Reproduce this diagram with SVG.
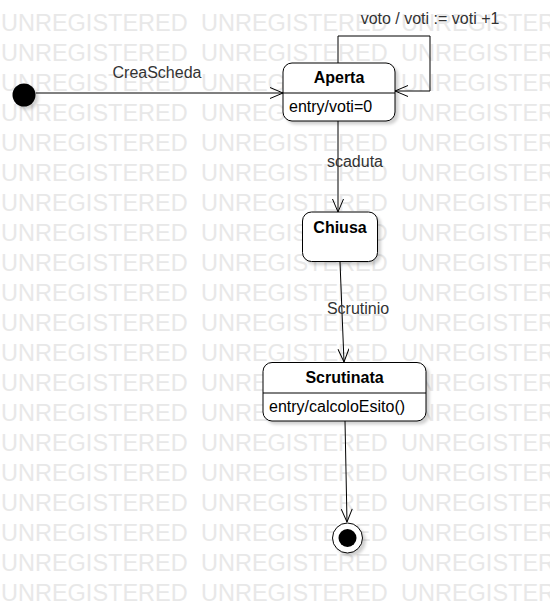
<svg xmlns="http://www.w3.org/2000/svg" width="550" height="603" viewBox="0 0 550 603">
  <style>
    .wm { font-family: "Liberation Sans", Arial, sans-serif; font-size: 23.5px; fill: #e8e8e8; }
    .state { fill: #ffffff; stroke: #000000; stroke-width: 1; }
    .title { font-family: "Liberation Sans", Arial, sans-serif; font-size: 16px; font-weight: bold; fill: #000; text-anchor: middle; }
    .body { font-family: "Liberation Sans", Arial, sans-serif; font-size: 16px; fill: #000; }
    .lbl { font-family: "Liberation Sans", Arial, sans-serif; font-size: 16px; fill: #333; }
    .edge { fill: none; stroke: #000000; stroke-width: 1; }
    .div { stroke: #000; stroke-width: 1; }
  </style>
  <defs>
    <filter id="sh" x="-20%" y="-20%" width="150%" height="150%">
      <feDropShadow dx="3" dy="3" stdDeviation="1.5" flood-color="#000" flood-opacity="0.18"/>
    </filter>
    <marker id="arr" viewBox="0 0 14 12" refX="13.5" refY="6" markerWidth="14" markerHeight="12" markerUnits="userSpaceOnUse" orient="auto">
      <path d="M0.5,0.5 L13.5,6 L0.5,11.5" fill="none" stroke="#000" stroke-width="1"/>
    </marker>
  </defs>
  <rect width="550" height="603" fill="#ffffff"/>
  <g id="watermark">
    <text class="wm" x="1" y="31">UNREGISTERED</text><text class="wm" x="201" y="31">UNREGISTERED</text><text class="wm" x="401" y="31">UNREGISTERED</text>
    <text class="wm" x="1" y="61">UNREGISTERED</text><text class="wm" x="201" y="61">UNREGISTERED</text><text class="wm" x="401" y="61">UNREGISTERED</text>
    <text class="wm" x="1" y="91">UNREGISTERED</text><text class="wm" x="201" y="91">UNREGISTERED</text><text class="wm" x="401" y="91">UNREGISTERED</text>
    <text class="wm" x="1" y="121">UNREGISTERED</text><text class="wm" x="201" y="121">UNREGISTERED</text><text class="wm" x="401" y="121">UNREGISTERED</text>
    <text class="wm" x="1" y="151">UNREGISTERED</text><text class="wm" x="201" y="151">UNREGISTERED</text><text class="wm" x="401" y="151">UNREGISTERED</text>
    <text class="wm" x="1" y="181">UNREGISTERED</text><text class="wm" x="201" y="181">UNREGISTERED</text><text class="wm" x="401" y="181">UNREGISTERED</text>
    <text class="wm" x="1" y="211">UNREGISTERED</text><text class="wm" x="201" y="211">UNREGISTERED</text><text class="wm" x="401" y="211">UNREGISTERED</text>
    <text class="wm" x="1" y="241">UNREGISTERED</text><text class="wm" x="201" y="241">UNREGISTERED</text><text class="wm" x="401" y="241">UNREGISTERED</text>
    <text class="wm" x="1" y="271">UNREGISTERED</text><text class="wm" x="201" y="271">UNREGISTERED</text><text class="wm" x="401" y="271">UNREGISTERED</text>
    <text class="wm" x="1" y="301">UNREGISTERED</text><text class="wm" x="201" y="301">UNREGISTERED</text><text class="wm" x="401" y="301">UNREGISTERED</text>
    <text class="wm" x="1" y="331">UNREGISTERED</text><text class="wm" x="201" y="331">UNREGISTERED</text><text class="wm" x="401" y="331">UNREGISTERED</text>
    <text class="wm" x="1" y="361">UNREGISTERED</text><text class="wm" x="201" y="361">UNREGISTERED</text><text class="wm" x="401" y="361">UNREGISTERED</text>
    <text class="wm" x="1" y="391">UNREGISTERED</text><text class="wm" x="201" y="391">UNREGISTERED</text><text class="wm" x="401" y="391">UNREGISTERED</text>
    <text class="wm" x="1" y="421">UNREGISTERED</text><text class="wm" x="201" y="421">UNREGISTERED</text><text class="wm" x="401" y="421">UNREGISTERED</text>
    <text class="wm" x="1" y="451">UNREGISTERED</text><text class="wm" x="201" y="451">UNREGISTERED</text><text class="wm" x="401" y="451">UNREGISTERED</text>
    <text class="wm" x="1" y="481">UNREGISTERED</text><text class="wm" x="201" y="481">UNREGISTERED</text><text class="wm" x="401" y="481">UNREGISTERED</text>
    <text class="wm" x="1" y="511">UNREGISTERED</text><text class="wm" x="201" y="511">UNREGISTERED</text><text class="wm" x="401" y="511">UNREGISTERED</text>
    <text class="wm" x="1" y="541">UNREGISTERED</text><text class="wm" x="201" y="541">UNREGISTERED</text><text class="wm" x="401" y="541">UNREGISTERED</text>
    <text class="wm" x="1" y="571">UNREGISTERED</text><text class="wm" x="201" y="571">UNREGISTERED</text><text class="wm" x="401" y="571">UNREGISTERED</text>
    <text class="wm" x="1" y="601">UNREGISTERED</text><text class="wm" x="201" y="601">UNREGISTERED</text><text class="wm" x="401" y="601">UNREGISTERED</text>
  </g>
  <g id="connectors">
    <path class="edge" d="M36,93 L283,93" marker-end="url(#arr)"/>
    <path class="edge" d="M338,63 L338,36 L430,36 L430,91 L395,91" marker-end="url(#arr)"/>
    <path class="edge" d="M338,121 L338,212" marker-end="url(#arr)"/>
    <path class="edge" d="M340,262 L344,362" marker-end="url(#arr)"/>
    <path class="edge" d="M345,421 L347,522" marker-end="url(#arr)"/>
    <text class="lbl" x="157" y="78" text-anchor="middle">CreaScheda</text>
    <text class="lbl" x="430" y="24" text-anchor="middle">voto / voti := voti +1</text>
    <text class="lbl" x="355" y="167" text-anchor="middle">scaduta</text>
    <text class="lbl" x="358" y="314" text-anchor="middle">Scrutinio</text>
  </g>
  <g id="initial">
    <circle cx="24" cy="95" r="11.5" fill="#000" filter="url(#sh)"/>
  </g>
  <g id="aperta">
    <rect class="state" x="283" y="63" width="112" height="58" rx="9" filter="url(#sh)"/>
    <line class="div" x1="283" y1="93" x2="395" y2="93"/>
    <text class="title" x="339" y="83">Aperta</text>
    <text class="body" x="289" y="112">entry/voti=0</text>
  </g>
  <g id="chiusa">
    <rect class="state" x="302.5" y="212" width="75" height="49.5" rx="9" filter="url(#sh)"/>
    <text class="title" x="340" y="233">Chiusa</text>
  </g>
  <g id="scrutinata">
    <rect class="state" x="263" y="362.5" width="163" height="58.5" rx="9" filter="url(#sh)"/>
    <line class="div" x1="263" y1="393" x2="426" y2="393"/>
    <text class="title" x="344.5" y="383">Scrutinata</text>
    <text class="body" x="269" y="412">entry/calcoloEsito()</text>
  </g>
  <g id="final">
    <circle cx="347.5" cy="538" r="15" fill="#fff" stroke="#000" stroke-width="1" filter="url(#sh)"/>
    <circle cx="347.5" cy="538" r="9" fill="#000"/>
  </g>
</svg>
